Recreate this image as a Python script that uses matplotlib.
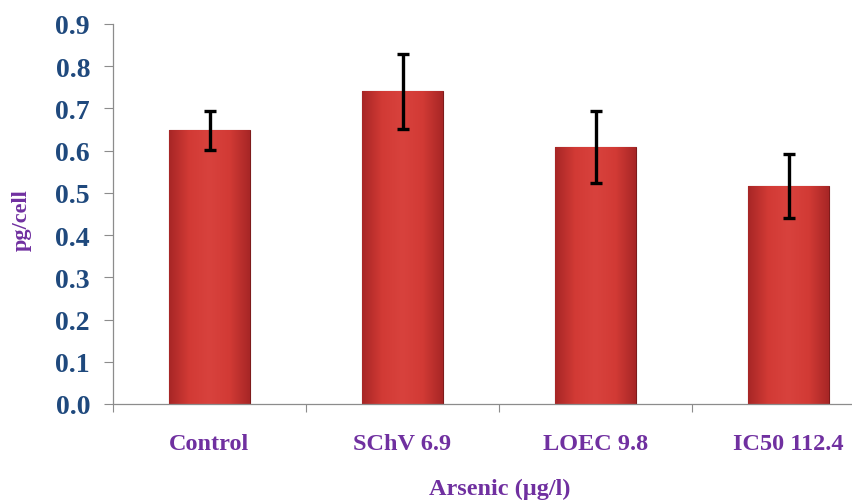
import numpy as np
import matplotlib
matplotlib.use("Agg")
import matplotlib.pyplot as plt
from matplotlib.colors import LinearSegmentedColormap

# data
groups = ["Control", "SChV 6.9", "LOEC 9.8", "IC50 112.4"]
means = [0.648, 0.741, 0.609, 0.516]
errors = [0.047, 0.089, 0.085, 0.075]
yticks = [0.0, 0.1, 0.2, 0.3, 0.4, 0.5, 0.6, 0.7, 0.8, 0.9]

blue = "#1F497D"
purple = "#7030A0"
grey = "#8C8C8C"

fig = plt.figure(figsize=(8.52, 5.02), dpi=100)
ax = fig.add_axes([113 / 852, 1 - 405 / 502, 772 / 852, 380 / 502])

x = np.arange(len(groups))
bars = ax.bar(x, means, width=0.415, color="#C8302C", edgecolor="#7E1B1B",
              linewidth=0.8, zorder=2)

# horizontal shading so the bars look a bit rounded like the original
shade = LinearSegmentedColormap.from_list(
    "shade", ["#A72626", "#D23A35", "#D8423D", "#D23A35", "#A72626"])
grad = np.linspace(0, 1, 256).reshape(1, -1)
for b in bars:
    x0, y0 = b.get_x(), b.get_y()
    w, h = b.get_width(), b.get_height()
    im = ax.imshow(grad, cmap=shade, extent=[x0, x0 + w, y0, y0 + h],
                   aspect="auto", zorder=2.5)
    im.set_clip_path(b)

ax.errorbar(x, means, yerr=errors, fmt="none", ecolor="black", elinewidth=2.4,
            capsize=4.5, capthick=2.4, zorder=4)

ax.set_xlim(-0.5, 3.5)
ax.set_ylim(0, 0.9)

ax.set_yticks(yticks)
ax.set_yticklabels([f"{v:.1f}" for v in yticks])
ax.set_xticks(x)
ax.set_xticklabels(groups)
ax.set_xticks(np.arange(-0.5, 4, 1.0), minor=True)

ax.tick_params(axis="y", direction="out", length=6.5, width=0.8, color=grey,
               pad=10, labelsize=20, labelcolor=blue)
ax.tick_params(axis="x", which="major", length=0, pad=21, labelsize=17.5,
               labelcolor=purple)
ax.tick_params(axis="x", which="minor", direction="out", length=6, width=0.8,
               color=grey)

for lab in ax.get_yticklabels():
    lab.set_fontfamily("Liberation Serif")
    lab.set_fontweight("bold")
for lab in ax.get_xticklabels():
    lab.set_fontfamily("Liberation Serif")
    lab.set_fontweight("bold")

for s in ["top", "right"]:
    ax.spines[s].set_visible(False)
for s in ["left", "bottom"]:
    ax.spines[s].set_color(grey)
    ax.spines[s].set_linewidth(0.9)

ax.set_ylabel("pg/cell", fontfamily="Liberation Serif", fontweight="bold",
              fontsize=16, color=purple)
ax.yaxis.set_label_coords(-81 / 772, 0.5 - 5 / 380)
ax.set_xlabel("Arsenic (µg/l)", fontfamily="Liberation Serif", fontweight="bold",
              fontsize=17.5, color=purple)
ax.xaxis.set_label_coords((500 - 113) / 772, -74 / 380)

fig.savefig("out.png", dpi=100)
